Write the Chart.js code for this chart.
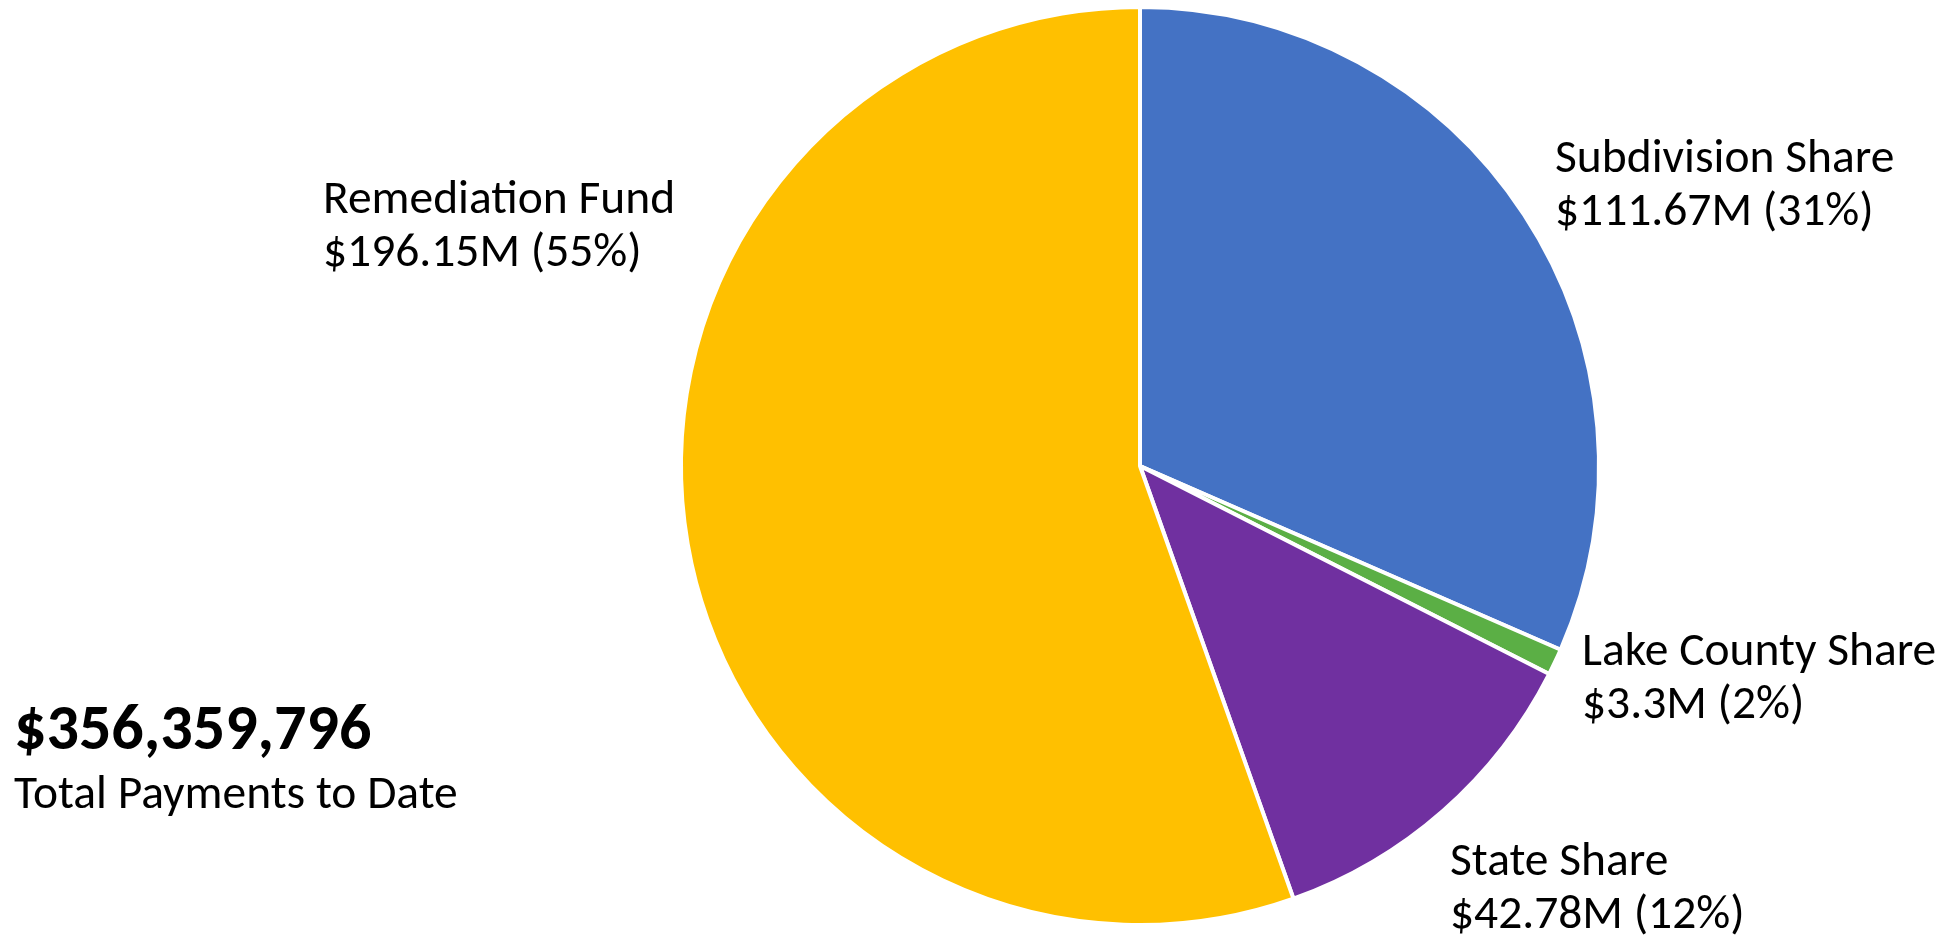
<!DOCTYPE html>
<html>
<head>
<meta charset="utf-8">
<script src="https://cdn.jsdelivr.net/npm/chart.js@4/dist/chart.umd.min.js"></script>
<style>
  html, body { margin: 0; padding: 0; background: #ffffff; }
  #wrap { position: relative; width: 1946px; height: 940px; }
</style>
</head>
<body>
<div id="wrap"><canvas id="c" width="1946" height="940"></canvas></div>
<script>
// ---- data ----
const categories = ["Subdivision Share", "Lake County Share", "State Share", "Remediation Fund"];
const valuesM = [111.67, 3.3, 42.78, 196.15];
const valueLabels = ["$111.67M", "$3.3M", "$42.78M", "$196.15M"];
const percentLabels = ["31%", "2%", "12%", "55%"];
const totalLabel = "$356,359,796";
const totalCaption = "Total Payments to Date";

// ---- styling / layout ----
const colors = ["#4472C4", "#5BAF45", "#7030A0", "#FFC000"];
const FONT = "Carlito, Lato, 'Open Sans', sans-serif";
const labelAnchors = [
  { x: 1555, y: 172 },
  { x: 1582, y: 665 },
  { x: 1450, y: 875 },
  { x: 323,  y: 213 }
];
const lineGap = 53;

const textPlugin = {
  id: 'textPlugin',
  afterDraw(chart) {
    const ctx = chart.ctx;
    ctx.save();
    ctx.fillStyle = '#000000';
    ctx.textAlign = 'left';
    ctx.textBaseline = 'alphabetic';
    ctx.font = "47.5px " + FONT;
    categories.forEach((cat, i) => {
      const a = labelAnchors[i];
      ctx.fillText(cat, a.x, a.y);
      ctx.fillText(valueLabels[i] + " (" + percentLabels[i] + ")", a.x, a.y + lineGap);
    });
    ctx.font = "bold 64px " + FONT;
    ctx.fillText(totalLabel, 14, 749);
    ctx.font = "47.5px " + FONT;
    ctx.fillText(totalCaption, 14, 808);
    ctx.restore();
  }
};

new Chart(document.getElementById('c'), {
  type: 'pie',
  data: {
    labels: categories,
    datasets: [{
      data: valuesM,
      backgroundColor: colors,
      borderColor: '#ffffff',
      borderWidth: 4,
      hoverOffset: 0
    }]
  },
  options: {
    responsive: false,
    animation: false,
    radius: 459,
    layout: { padding: { top: 7, bottom: 15, left: 681, right: 347 } },
    plugins: {
      legend: { display: false },
      tooltip: { enabled: false }
    }
  },
  plugins: [textPlugin]
});
</script>
</body>
</html>
